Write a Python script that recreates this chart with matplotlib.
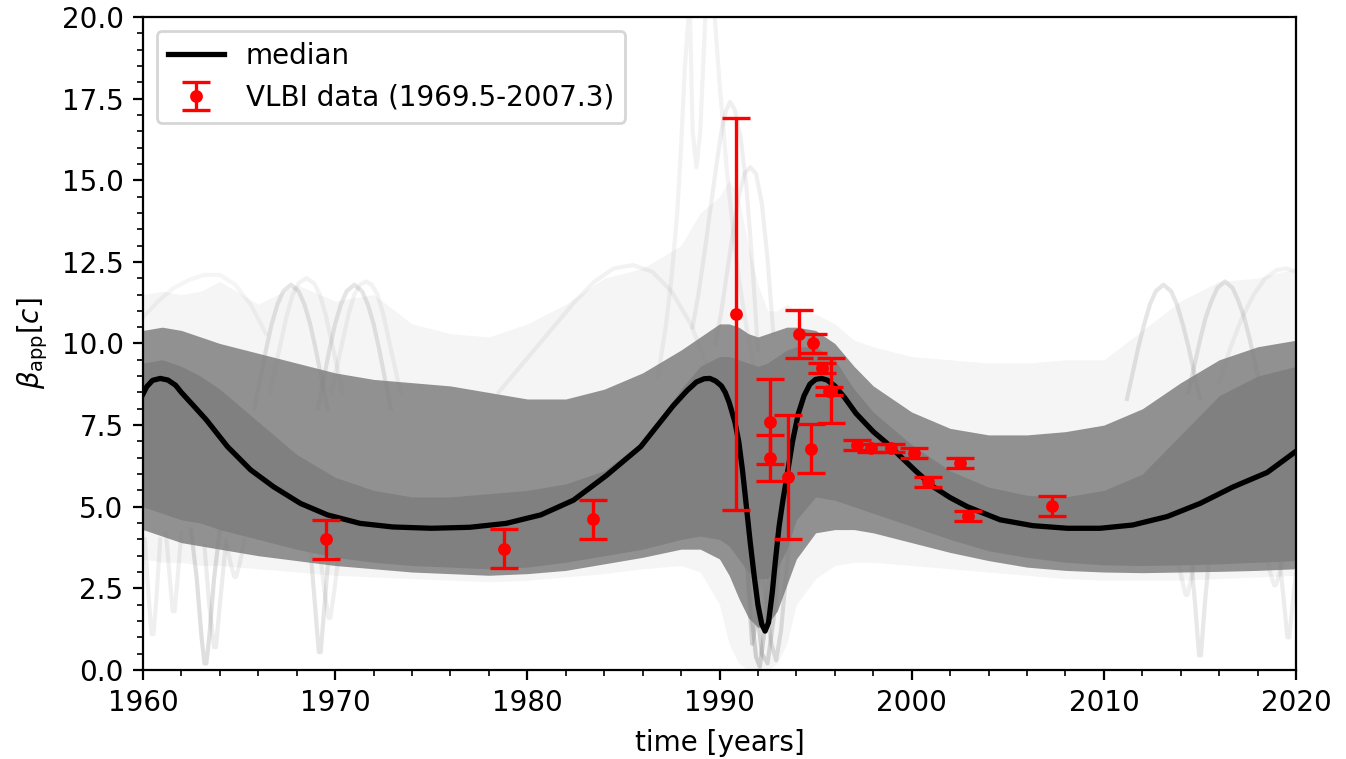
import numpy as np
import matplotlib
matplotlib.use("Agg")
import matplotlib.pyplot as plt
from matplotlib.ticker import MultipleLocator

# ---------------- data ----------------
# median curve
med_t = [1960.0, 1960.2, 1960.5, 1960.9, 1961.3, 1961.7, 1962.0, 1962.7, 1963.3, 1964.4,
         1965.6, 1966.8, 1968.2, 1969.6, 1971.3, 1973.0, 1975.0, 1977.0, 1978.9, 1980.7,
         1982.4, 1984.1, 1985.9, 1987.6, 1988.3, 1988.8, 1989.2, 1989.5, 1989.8, 1990.1,
         1990.3, 1990.5, 1990.8, 1991.0, 1991.2, 1991.4, 1991.6, 1991.8, 1992.0, 1992.2,
         1992.37, 1992.55, 1992.75, 1992.9, 1993.1, 1993.3, 1993.5, 1993.8, 1994.1, 1994.4,
         1994.7, 1995.0, 1995.3, 1995.6, 1996.0, 1996.5, 1997.1, 1998.0, 1998.7, 1999.4,
         2000.2, 2001.1, 2002.0, 2002.9, 2004.6, 2006.3, 2008.1, 2009.8, 2011.5, 2013.3,
         2015.0, 2016.7, 2018.5, 2020.0]
med_v = [8.45, 8.68, 8.87, 8.93, 8.88, 8.72, 8.5, 8.05, 7.66, 6.84,
         6.13, 5.61, 5.1, 4.75, 4.49, 4.38, 4.34, 4.37, 4.49, 4.75,
         5.2, 5.95, 6.84, 8.1, 8.55, 8.82, 8.92, 8.93, 8.85, 8.7,
         8.5, 8.2, 7.6, 7.0, 6.1, 5.0, 3.9, 2.9, 2.0, 1.4,
         1.19, 1.45, 2.4, 3.3, 4.4, 5.2, 5.9, 7.0, 7.85, 8.4,
         8.75, 8.9, 8.93, 8.88, 8.7, 8.35, 7.86, 7.3, 6.95, 6.55,
         6.1, 5.62, 5.28, 5.0, 4.6, 4.42, 4.34, 4.34, 4.44, 4.7,
         5.1, 5.6, 6.05, 6.7]

# VLBI data points
vlbi_t = [1969.5, 1978.8, 1983.4, 1990.85, 1992.65, 1992.65, 1993.55, 1994.15, 1994.85,
          1994.75, 1995.35, 1995.7, 1995.8, 1997.15, 1997.9, 1998.9, 2000.1, 2000.85,
          2002.5, 2002.95, 2007.3]
vlbi_v = [4.0, 3.72, 4.62, 10.9, 7.6, 6.5, 5.9, 10.3, 10.0,
          6.78, 9.25, 8.55, 8.55, 6.9, 6.8, 6.8, 6.65, 5.75,
          6.33, 4.72, 5.02]
vlbi_err = [0.6, 0.6, 0.6, 6.0, 1.3, 0.7, 1.9, 0.73, 0.3,
            0.74, 0.15, 0.12, 1.0, 0.15, 0.12, 0.12, 0.15, 0.15,
            0.15, 0.16, 0.3]

# envelopes of the posterior sample band (grid years)
band_t = [1960, 1961, 1962, 1963, 1964, 1966, 1968, 1970, 1972, 1974, 1976, 1978, 1980,
          1982, 1984, 1986, 1988, 1989, 1990, 1990.5, 1991, 1991.5, 1992, 1992.5, 1993,
          1993.5, 1994, 1995, 1996, 1997, 1998, 2000, 2002, 2004, 2006, 2008, 2010, 2012,
          2014, 2016, 2018, 2020]
core_lo = [5.0, 4.8, 4.6, 4.5, 4.3, 4.0, 3.7, 3.45, 3.3, 3.2, 3.15, 3.1, 3.15,
           3.3, 3.5, 3.7, 4.0, 4.1, 4.0, 3.8, 3.4, 3.0, 2.8, 2.8, 3.1,
           3.7, 4.6, 5.3, 5.2, 5.0, 4.8, 4.4, 4.0, 3.65, 3.45, 3.3, 3.22, 3.2,
           3.22, 3.25, 3.3, 3.35]
core_hi = [9.4, 9.5, 9.3, 9.0, 8.6, 7.6, 6.6, 5.9, 5.5, 5.3, 5.3, 5.4, 5.5,
           5.7, 6.1, 7.0, 8.6, 9.3, 9.6, 9.6, 9.5, 9.4, 9.3, 9.4, 9.6,
           9.8, 9.9, 9.9, 9.5, 8.6, 7.9, 6.9, 6.1, 5.6, 5.35, 5.3, 5.5, 6.0,
           7.2, 8.4, 9.0, 9.3]
mid_lo = [4.3, 4.1, 3.9, 3.8, 3.7, 3.5, 3.35, 3.2, 3.1, 3.0, 2.95, 2.9, 2.95,
          3.05, 3.25, 3.45, 3.7, 3.7, 3.4, 2.9, 2.2, 1.6, 1.3, 1.4, 1.8,
          2.6, 3.4, 4.2, 4.3, 4.3, 4.2, 3.9, 3.6, 3.35, 3.15, 3.05, 3.0, 2.98,
          3.0, 3.02, 3.05, 3.1]
mid_hi = [10.4, 10.5, 10.4, 10.2, 10.0, 9.7, 9.4, 9.1, 8.9, 8.8, 8.7, 8.5, 8.3,
          8.3, 8.6, 9.1, 9.8, 10.2, 10.6, 10.6, 10.5, 10.3, 10.2, 10.3, 10.4,
          10.5, 10.5, 10.4, 10.0, 9.3, 8.7, 7.9, 7.4, 7.2, 7.2, 7.3, 7.5, 8.0,
          8.8, 9.5, 9.9, 10.1]
faint_lo = [3.4, 3.3, 3.3, 3.2, 3.2, 3.1, 3.0, 2.9, 2.85, 2.8, 2.75, 2.7, 2.75,
            2.85, 2.95, 3.1, 3.2, 3.0, 2.0, 0.8, 0.2, 0.0, 0.0, 0.0, 0.2,
            0.8, 2.0, 2.8, 3.2, 3.3, 3.3, 3.2, 3.1, 3.0, 2.9, 2.8, 2.75, 2.75,
            2.75, 2.8, 2.85, 2.9]
faint_hi = [11.5, 11.6, 11.5, 11.6, 11.9, 11.2, 11.8, 11.3, 11.5, 10.6, 10.3, 10.2, 10.6,
            11.2, 12.0, 12.3, 13.0, 14.0, 14.5, 15.0, 14.5, 13.0, 11.8, 11.0, 11.0,
            11.2, 11.0, 10.9, 10.6, 10.1, 9.9, 9.6, 9.5, 9.4, 9.4, 9.5, 9.5, 10.4,
            11.3, 11.9, 12.0, 12.3]

# individual faint sample traces visible outside the band
arc1_t = [1965.8, 1966.1, 1966.4, 1966.7, 1967.0, 1967.3, 1967.7, 1968.1, 1968.4, 1968.7, 1969.0, 1969.3, 1969.6]
arc1_v = [8.0, 8.9, 9.8, 10.6, 11.2, 11.6, 11.8, 11.6, 11.2, 10.6, 9.8, 8.9, 8.0]
arc2_t = [1969.1, 1969.4, 1969.7, 1970.0, 1970.3, 1970.6, 1971.0, 1971.4, 1971.7, 1972.0, 1972.3, 1972.6, 1972.9]
arc2_v = [8.0, 8.9, 9.8, 10.6, 11.2, 11.6, 11.8, 11.6, 11.2, 10.6, 9.8, 8.9, 8.0]
arc3_t = [1966.6, 1966.9, 1967.2, 1967.5, 1967.8, 1968.1, 1968.5, 1968.9, 1969.2, 1969.5, 1969.8, 1970.1, 1970.4]
arc3_v = [8.5, 9.3, 10.1, 10.9, 11.5, 11.85, 12.0, 11.85, 11.5, 10.9, 10.1, 9.3, 8.5]
arc4_t = [1969.8, 1970.1, 1970.4, 1970.7, 1971.0, 1971.3, 1971.6, 1971.9, 1972.2, 1972.5, 1972.8, 1973.1, 1973.4]
arc4_v = [8.5, 9.3, 10.1, 10.9, 11.5, 11.8, 11.9, 11.8, 11.5, 10.9, 10.1, 9.3, 8.5]
arc5_t = [1978.5, 1979.5, 1980.5, 1981.5, 1982.5, 1983.5, 1984.5, 1985.5, 1986.5, 1987.5, 1988.5, 1989.3, 1990.0]
arc5_v = [8.5, 9.2, 9.9, 10.6, 11.3, 11.9, 12.3, 12.4, 12.2, 11.6, 10.6, 9.4, 8.0]
arc6_t = [1988.6, 1988.9, 1989.2, 1989.5, 1989.8, 1990.1, 1990.35, 1990.55, 1990.8, 1991.1, 1991.4, 1991.7, 1992.0]
arc6_v = [10.5, 11.5, 12.7, 14.0, 15.3, 16.5, 17.15, 17.4, 17.15, 16.3, 14.8, 12.5, 9.8]
arc7_t = [1989.8, 1990.1, 1990.4, 1990.7, 1991.0, 1991.3, 1991.6, 1991.9, 1992.2, 1992.5, 1992.8]
arc7_v = [10.0, 11.0, 12.2, 13.4, 14.5, 15.2, 15.4, 15.2, 14.3, 12.6, 10.3]
arc8_t = [1986.8, 1987.2, 1987.5, 1987.8, 1988.0, 1988.2, 1988.45, 1988.6, 1988.8, 1989.0, 1989.15, 1989.3, 1989.45]
arc8_v = [9.0, 10.5, 12.0, 14.0, 16.0, 18.5, 20.5, 16.5, 15.4, 16.5, 18.5, 20.5, 22.0]
arc9_t = [1989.55, 1989.7, 1989.85, 1990.0, 1990.2, 1990.4, 1990.7, 1991.0, 1991.4, 1991.8]
arc9_v = [22.0, 20.5, 19.2, 18.0, 16.6, 15.2, 13.5, 12.0, 10.5, 9.3]
arc10_t = [2011.2, 2011.5, 2011.8, 2012.1, 2012.4, 2012.7, 2013.1, 2013.5, 2013.8, 2014.1, 2014.4, 2014.7, 2015.0]
arc10_v = [8.3, 9.1, 9.9, 10.6, 11.2, 11.6, 11.8, 11.6, 11.2, 10.6, 9.9, 9.1, 8.3]
arc11_t = [2014.4, 2014.7, 2015.0, 2015.3, 2015.6, 2015.9, 2016.3, 2016.7, 2017.0, 2017.3, 2017.6, 2017.9, 2018.2]
arc11_v = [8.5, 9.3, 10.1, 10.8, 11.3, 11.7, 11.9, 11.7, 11.3, 10.8, 10.1, 9.3, 8.5]
arc12_t = [2016.0, 2016.6, 2017.2, 2017.8, 2018.4, 2019.0, 2019.5, 2020.0]
arc12_v = [8.8, 9.9, 10.8, 11.5, 12.0, 12.25, 12.3, 12.2]
arc13_t = [1960.0, 1960.8, 1961.6, 1962.4, 1963.2, 1964.0, 1964.8, 1965.6, 1966.4]
arc13_v = [10.8, 11.3, 11.7, 11.95, 12.1, 12.1, 11.8, 11.2, 10.3]
dip1_t = [1990.6, 1991.0, 1991.4, 1991.7, 1991.9, 1992.1, 1992.4, 1992.8]
dip1_v = [8.0, 6.0, 3.5, 1.5, 0.4, 0.1, 1.5, 4.5]
dip2_t = [1991.0, 1991.5, 1991.9, 1992.2, 1992.5, 1992.8, 1993.1, 1993.5]
dip2_v = [8.0, 5.0, 2.2, 0.5, 0.2, 1.5, 3.5, 6.0]
dip3_t = [1990.8, 1991.2, 1991.5, 1991.7, 1991.9, 1992.2, 1992.6]
dip3_v = [8.5, 5.5, 2.5, 0.8, 1.5, 4.0, 7.0]
dip4_t = [1991.6, 1992.0, 1992.4, 1992.7, 1992.95, 1993.2, 1993.6, 1994.0]
dip4_v = [7.5, 4.5, 2.0, 0.8, 0.3, 1.2, 3.8, 6.0]
sp1_t = [1960.1, 1960.3, 1960.45, 1960.55, 1960.7, 1960.9]
sp1_v = [4.0, 2.2, 1.1, 1.1, 2.2, 4.0]
sp2_t = [1961.2, 1961.4, 1961.55, 1961.65, 1961.8, 1962.0]
sp2_v = [4.2, 2.8, 1.8, 1.8, 2.8, 4.2]
sp3_t = [1962.5, 1962.8, 1963.05, 1963.2, 1963.3, 1963.45, 1963.7, 1964.0]
sp3_v = [4.3, 2.8, 1.0, 0.2, 0.2, 1.0, 2.8, 4.3]
sp4_t = [1963.2, 1963.45, 1963.7, 1963.8, 1964.0, 1964.3]
sp4_v = [3.8, 2.0, 0.7, 0.7, 2.0, 3.8]
sp5_t = [1964.3, 1964.55, 1964.75, 1964.85, 1965.05, 1965.3]
sp5_v = [4.0, 3.3, 2.85, 2.85, 3.3, 4.0]
sp6_t = [1968.7, 1968.95, 1969.15, 1969.25, 1969.45, 1969.7]
sp6_v = [3.8, 2.0, 0.55, 0.55, 2.0, 3.8]
sp7_t = [1969.2, 1969.45, 1969.65, 1969.75, 1969.95, 1970.2]
sp7_v = [3.6, 2.4, 1.6, 1.6, 2.4, 3.6]
sp8_t = [2013.8, 2014.05, 2014.25, 2014.35, 2014.55, 2014.8]
sp8_v = [3.5, 2.8, 2.3, 2.3, 2.8, 3.5]
sp9_t = [2014.5, 2014.75, 2014.95, 2015.05, 2015.25, 2015.5]
sp9_v = [3.6, 2.0, 0.45, 0.45, 2.0, 3.6]
sp10_t = [2019.1, 2019.35, 2019.55, 2019.65, 2019.85, 2020.0]
sp10_v = [3.6, 2.2, 1.0, 1.0, 2.2, 3.0]
sp11_t = [2018.4, 2018.65, 2018.85, 2018.95, 2019.15, 2019.4]
sp11_v = [3.6, 3.0, 2.6, 2.6, 3.0, 3.6]

faint_traces = [(arc1_t, arc1_v, 0.2), (arc2_t, arc2_v, 0.2), (arc3_t, arc3_v, 0.1),
                (arc4_t, arc4_v, 0.1), (arc5_t, arc5_v, 0.1), (arc6_t, arc6_v, 0.12),
                (arc7_t, arc7_v, 0.12), (arc8_t, arc8_v, 0.1), (arc9_t, arc9_v, 0.1),
                (arc10_t, arc10_v, 0.2), (arc11_t, arc11_v, 0.2), (arc12_t, arc12_v, 0.1),
                (arc13_t, arc13_v, 0.08),
                (dip1_t, dip1_v, 0.35), (dip2_t, dip2_v, 0.3), (dip3_t, dip3_v, 0.3),
                (dip4_t, dip4_v, 0.25),
                (sp1_t, sp1_v, 0.12), (sp2_t, sp2_v, 0.12), (sp3_t, sp3_v, 0.25),
                (sp4_t, sp4_v, 0.15), (sp5_t, sp5_v, 0.12), (sp6_t, sp6_v, 0.2),
                (sp7_t, sp7_v, 0.12), (sp8_t, sp8_v, 0.12), (sp9_t, sp9_v, 0.18),
                (sp10_t, sp10_v, 0.15), (sp11_t, sp11_v, 0.12)]

# ---------------- figure ----------------
fig = plt.figure(figsize=(6.73, 3.795), dpi=200)
ax = fig.add_axes([0.1062, 0.1173, 0.8567, 0.8603])

ax.fill_between(band_t, faint_lo, faint_hi, color="gray", alpha=0.08, lw=0, zorder=1)
ax.fill_between(band_t, mid_lo, mid_hi, color="gray", alpha=0.85, lw=0, zorder=1.1)
ax.fill_between(band_t, core_lo, core_hi, color="gray", alpha=1.0, lw=0, zorder=1.2)
for tt, vv, a in faint_traces:
    ax.plot(tt, vv, color="gray", alpha=a, lw=1.5, zorder=1.3, solid_joinstyle="round")

ax.plot(med_t, med_v, color="black", lw=1.9, label="median", zorder=3)
ax.errorbar(vlbi_t, vlbi_v, yerr=vlbi_err, fmt="o", color="red", ms=3.6,
            elinewidth=1.2, capsize=5, capthick=1.2,
            label="VLBI data (1969.5-2007.3)", zorder=4)

ax.set_xlim(1960, 2020)
ax.set_ylim(0, 20)
ax.xaxis.set_major_locator(MultipleLocator(10))
ax.xaxis.set_minor_locator(MultipleLocator(2))
ax.yaxis.set_major_locator(MultipleLocator(2.5))
ax.yaxis.set_minor_locator(MultipleLocator(0.5))
ax.set_xlabel("time [years]")
ax.set_ylabel(r"$\beta_{\mathrm{app}}[c]$")
ax.legend(loc="upper left")

fig.savefig("out.png", dpi=200)
